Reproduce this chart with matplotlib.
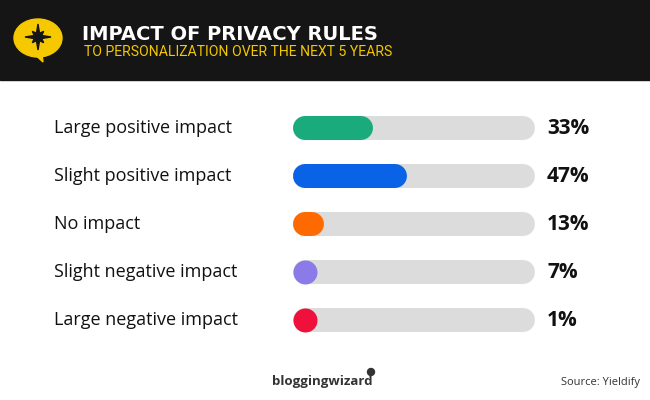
import matplotlib.pyplot as plt
from matplotlib.patches import Ellipse, Polygon
import numpy as np

categories = ["Large positive impact", "Slight positive impact", "No impact",
              "Slight negative impact", "Large negative impact"]
values = [33, 47, 13, 7, 1]
colors = ["#1aab7d", "#0a63e6", "#ff6a00", "#8b7be8", "#f0103c"]

fig = plt.figure(figsize=(6.5, 4), dpi=100)
ax = fig.add_axes([0, 0, 1, 1])
ax.set_xlim(0, 650)
ax.set_ylim(400, 0)
ax.axis("off")

# header
ax.add_patch(plt.Rectangle((0, 0), 650, 80, color="#151515", zorder=0))
ax.add_patch(Ellipse((38, 38), 48, 38, color="#f5c800", zorder=1))
ax.add_patch(Polygon([[30, 50], [42, 54], [43, 62]], color="#f5c800", zorder=1))
ang = np.linspace(np.pi / 2, np.pi / 2 + 2 * np.pi, 17)[:-1]
rad = np.array([13, 4, 8, 4] * 4)
ax.add_patch(Polygon(np.c_[38 + rad * np.cos(ang), 37 - rad * np.sin(ang)],
                     color="#151515", zorder=2))
ax.text(82, 34, "IMPACT OF PRIVACY RULES", color="white", fontsize=14,
        fontweight="bold", family="DejaVu Sans", va="center")
ax.text(84, 52, "TO PERSONALIZATION OVER THE NEXT 5 YEARS", color="#f5c800",
        fontsize=10.1, family="Roboto", va="center")

# bars
x0, full, h = 293, 242, 24
lw = h * 72 / 100
for i, (cat, v, c) in enumerate(zip(categories, values, colors)):
    y = 128 + i * 48
    ax.plot([x0 + h / 2, x0 + full - h / 2], [y, y], color="#dcdcdc", lw=lw,
            solid_capstyle="round", zorder=2)
    w = full * v / 100
    if w > h:
        ax.plot([x0 + h / 2, x0 + w - h / 2], [y, y], color=c, lw=lw,
                solid_capstyle="round", zorder=3)
    else:
        ax.scatter([x0 + h / 2], [y], s=lw ** 2, color=c, zorder=3, linewidths=0)
    ax.text(54, y, cat, fontsize=13, family="Open Sans", va="center", color="#111111")
    ax.text(547, y, f"{v}%", fontsize=15, family="Open Sans", fontweight="bold",
            va="center", color="#111111")

ax.text(272, 382, "bloggingwizard", fontsize=9.5, fontweight="bold", family="Open Sans",
        color="#333333", va="center")
ax.add_patch(plt.Circle((371, 372), 3.5, color="#333333"))
ax.text(640, 383, "Source: Yieldify", fontsize=8, family="Open Sans", color="#333333",
        va="center", ha="right")

fig.savefig("out.png", dpi=100)
